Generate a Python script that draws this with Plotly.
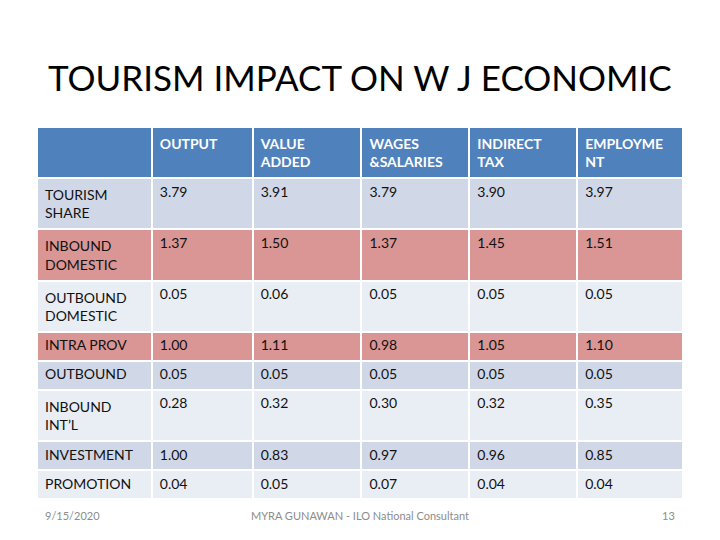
import plotly.graph_objects as go

title = "TOURISM IMPACT ON W J ECONOMIC"
headers = ["", "OUTPUT", "VALUE<br>ADDED", "WAGES<br>&SALARIES", "INDIRECT<br>TAX", "EMPLOYME<br>NT"]
row_labels = ["TOURISM<br>SHARE", "INBOUND<br>DOMESTIC", "OUTBOUND<br>DOMESTIC", "INTRA PROV",
              "OUTBOUND", "INBOUND<br>INT\u2019L", "INVESTMENT", "PROMOTION"]
output = ["3.79", "1.37", "0.05", "1.00", "0.05", "0.28", "1.00", "0.04"]
value_added = ["3.91", "1.50", "0.06", "1.11", "0.05", "0.32", "0.83", "0.05"]
wages_salaries = ["3.79", "1.37", "0.05", "0.98", "0.05", "0.30", "0.97", "0.07"]
indirect_tax = ["3.90", "1.45", "0.05", "1.05", "0.05", "0.32", "0.96", "0.04"]
employment = ["3.97", "1.51", "0.05", "1.10", "0.05", "0.35", "0.85", "0.04"]
row_colors = ["#D0D8E8", "#D99694", "#E9EDF4", "#D99694", "#D0D8E8", "#E9EDF4", "#D0D8E8", "#E9EDF4"]

footer_date = "9/15/2020"
footer_center = "MYRA GUNAWAN - ILO National Consultant"
footer_page = "13"

cols = [row_labels, output, value_added, wages_salaries, indirect_tax, employment]

# page body has an 8px margin, so positions are offset by -8px
OFF = 8

fig = go.Figure(go.Table(
    columnwidth=[115, 101, 109, 108, 108, 106],
    domain=dict(x=[(37 - OFF)/720, (683 - OFF)/720], y=[0, 1 - (127 - OFF)/540]),
    header=dict(
        values=[f"<b>{h}</b>" for h in headers],
        fill_color="#4F81BD",
        line=dict(color="white", width=2),
        font=dict(family="Lato", size=14, color="white"),
        align="left",
        height=48,
    ),
    cells=dict(
        values=cols,
        fill_color=[row_colors] * len(cols),
        line=dict(color="white", width=2),
        font=dict(family="Lato", size=14, color="#111111"),
        align="left",
        height=29,
    ),
))

fig.add_annotation(text=title, x=(360 - OFF)/720, y=1 - (77 - OFF)/540, xref="paper", yref="paper",
                   showarrow=False, font=dict(family="Lato", size=35, color="black"),
                   xanchor="center", yanchor="middle")
fig.add_annotation(text=footer_date, x=(43 - OFF)/720, y=1 - (515 - OFF)/540, xref="paper", yref="paper",
                   showarrow=False, font=dict(family="Lato", size=11, color="#8C8C8C"),
                   xanchor="left", yanchor="middle")
fig.add_annotation(text=footer_center, x=(360 - OFF)/720, y=1 - (515 - OFF)/540, xref="paper", yref="paper",
                   showarrow=False, font=dict(family="Lato", size=11, color="#8C8C8C"),
                   xanchor="center", yanchor="middle")
fig.add_annotation(text=footer_page, x=(677 - OFF)/720, y=1 - (515 - OFF)/540, xref="paper", yref="paper",
                   showarrow=False, font=dict(family="Lato", size=11, color="#8C8C8C"),
                   xanchor="right", yanchor="middle")

fig.update_layout(width=720, height=540, margin=dict(l=0, r=0, t=0, b=0),
                  paper_bgcolor="white", plot_bgcolor="white")
fig.write_html("out.html")
